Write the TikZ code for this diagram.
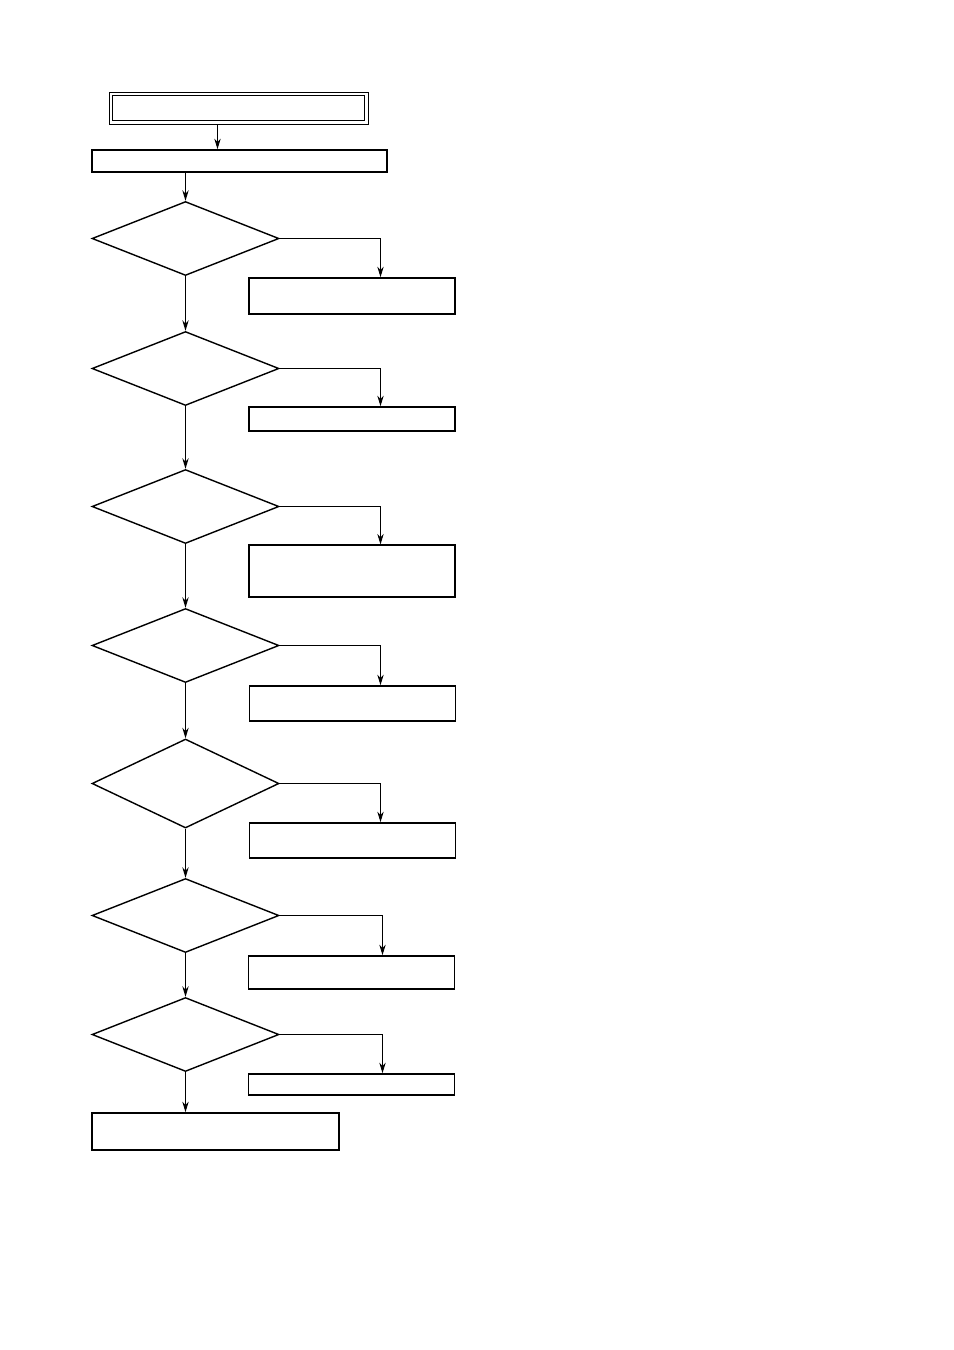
\documentclass[tikz,border=0pt]{standalone}
\usepackage{tikz}
\usetikzlibrary{arrows.meta,positioning,shapes.geometric}
\tikzset{
  startbox/.style={
    rectangle, draw=black, line width=1.1pt,
    minimum width=5.04cm, minimum height=0.5cm, inner sep=0pt
  },
  startframe/.style={
    rectangle, draw=black, line width=0.5pt,
    minimum width=5.18cm, minimum height=0.64cm, inner sep=0pt
  },
  stepbox/.style={
    rectangle, draw=black, line width=0.9pt,
    minimum width=#1, inner sep=0pt
  },
  stepbox/.default=4.12cm,
  testdiamond/.style={
    diamond, draw=black, line width=0.8pt,
    minimum width=3.74cm, minimum height=#1, inner sep=0pt
  },
  testdiamond/.default=1.48cm,
  flowarrow/.style={
    -{Stealth[length=6pt, width=3.6pt]}, line width=0.55pt, color=black
  },
}
\begin{document}
\begin{tikzpicture}[x=0.02cm, y=-0.02cm]
  \useasboundingbox (0,0) rectangle (954,1350);

  % Start
  \node[startframe] (frame) at (238.5,108) {};
  \node[startbox] (start) at (238.5,108) {};
  \node[stepbox=5.9cm, minimum height=0.44cm] (init) at (239.5,161) {};
  \draw[flowarrow] (frame.south -| 217.5,0) -- (init.north -| 217.5,0);

  % Tests down the left side
  \node[testdiamond] (t1) at (185.5,238.5) {};
  \node[testdiamond] (t2) at (185.5,368.5) {};
  \node[testdiamond] (t3) at (185.5,506.5) {};
  \node[testdiamond] (t4) at (185.5,645.5) {};
  \node[testdiamond=1.78cm] (t5) at (185.5,783.5) {};
  \node[testdiamond] (t6) at (185.5,915.5) {};
  \node[testdiamond] (t7) at (185.5,1034.5) {};

  % Actions on the right
  \node[stepbox, minimum height=0.72cm] (a1) at (352,296) {};
  \node[stepbox, minimum height=0.48cm] (a2) at (352,419) {};
  \node[stepbox, minimum height=1.04cm, line width=0.6pt] (a3) at (352,571) {};
  \node[stepbox, minimum height=0.70cm] (a4) at (352.5,703.5) {};
  \node[stepbox, minimum height=0.70cm] (a5) at (352.5,840.5) {};
  \node[stepbox, minimum height=0.66cm] (a6) at (351.5,972.5) {};
  \node[stepbox, minimum height=0.42cm] (a7) at (351.5,1084.5) {};

  % End
  \node[stepbox=4.94cm, minimum height=0.74cm] (done) at (215.5,1131.5) {};

  % Main line
  \draw[flowarrow] (init.south -| t1.north) -- (t1.north);
  \draw[flowarrow] (t1.south) -- (t2.north);
  \draw[flowarrow] (t2.south) -- (t3.north);
  \draw[flowarrow] (t3.south) -- (t4.north);
  \draw[flowarrow] (t4.south) -- (t5.north);
  \draw[flowarrow] (t5.south) -- (t6.north);
  \draw[flowarrow] (t6.south) -- (t7.north);
  \draw[flowarrow] (t7.south) -- (done.north -| t7.south);

  % Branches
  \draw[flowarrow] (t1.east) -| (a1.north -| 380.5,0);
  \draw[flowarrow] (t2.east) -| (a2.north -| 380.5,0);
  \draw[flowarrow] (t3.east) -| (a3.north -| 380.5,0);
  \draw[flowarrow] (t4.east) -| (a4.north -| 380.5,0);
  \draw[flowarrow] (t5.east) -| (a5.north -| 380.5,0);
  \draw[flowarrow] (t6.east) -| (a6.north -| 382.5,0);
  \draw[flowarrow] (t7.east) -| (a7.north -| 382.5,0);
\end{tikzpicture}
\end{document}
